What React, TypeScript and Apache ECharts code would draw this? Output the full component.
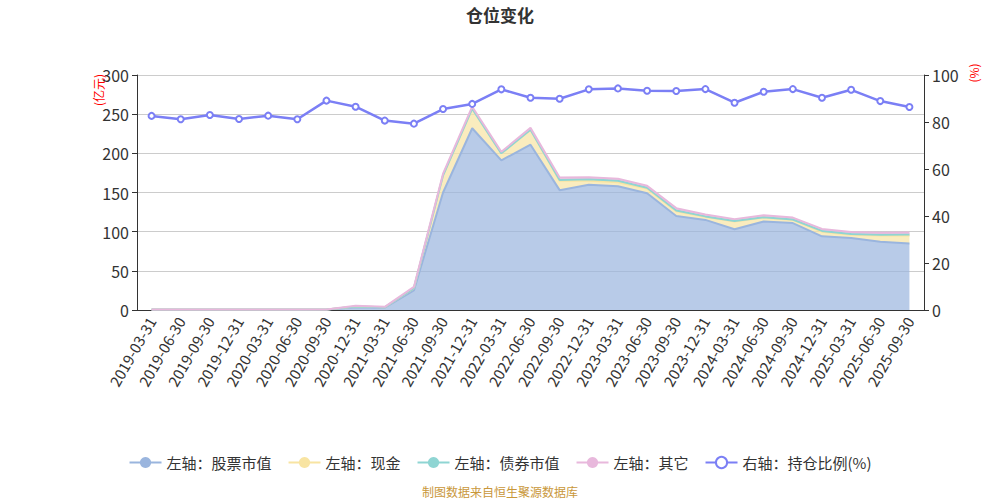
import React, { useEffect, useRef } from "react";
import * as echarts from "echarts";

const dates: string[] = [
  "2019-03-31", "2019-06-30", "2019-09-30", "2019-12-31",
  "2020-03-31", "2020-06-30", "2020-09-30", "2020-12-31",
  "2021-03-31", "2021-06-30", "2021-09-30", "2021-12-31",
  "2022-03-31", "2022-06-30", "2022-09-30", "2022-12-31",
  "2023-03-31", "2023-06-30", "2023-09-30", "2023-12-31",
  "2024-03-31", "2024-06-30", "2024-09-30", "2024-12-31",
  "2025-03-31", "2025-06-30", "2025-09-30",
];

// 亿元
const stockValue: number[] = [
  0.4, 0.4, 0.4, 0.4, 0.4, 0.4, 0.5, 3.5, 3, 25, 150, 232, 191, 211,
  153, 160, 158, 149, 120, 115, 103, 113, 111, 94, 92, 87, 85,
];
const cash: number[] = [
  0.1, 0.1, 0.1, 0.1, 0.1, 0.1, 0.1, 1, 0.5, 3, 22, 25, 9, 19,
  12, 5, 5, 6, 6, 4, 10, 5, 4, 6, 4, 8, 10,
];
const bondValue: number[] = [
  0, 0, 0, 0, 0, 0, 0, 0, 0, 0, 0, 0, 0, 0,
  1, 2, 2, 1, 1, 0.5, 0.5, 0.5, 0.5, 1, 1, 1, 1.5,
];
const other: number[] = [
  0.1, 0.1, 0.1, 0.1, 0.1, 0.1, 0.1, 0.8, 0.5, 1.5, 2, 2.5, 2, 2.5,
  3, 2.5, 2.5, 2.5, 3, 2.5, 2.5, 2.5, 2.5, 2.5, 2.5, 2.5, 2.5,
];
// %
const positionRatio: number[] = [
  82.6, 81.2, 83.0, 81.3, 82.7, 81.2, 89.1, 86.5, 80.6, 79.3, 85.5, 87.7,
  93.9, 90.3, 89.9, 93.9, 94.3, 93.3, 93.2, 94.0, 88.2, 92.9, 94.0, 90.3,
  93.7, 88.9, 86.4,
];

const FONT = "Noto Sans CJK SC";

const areaSeries = (name: string, data: number[], color: string) => ({
  name,
  type: "line",
  stack: "total",
  data,
  symbol: "circle",
  showSymbol: false,
  color,
  lineStyle: { width: 2, color },
  areaStyle: { color, opacity: 0.7 },
});

const App: React.FC = () => {
  const chartRef = useRef<HTMLDivElement | null>(null);

  useEffect(() => {
    const chartDom = chartRef.current;
    if (!chartDom) return;
    const myChart = echarts.init(chartDom, undefined, { renderer: "svg" });

    const option = {
      animation: false,
      backgroundColor: "#fff",
      textStyle: { fontFamily: FONT },
      title: {
        text: "仓位变化",
        left: "center",
        top: 1,
        textStyle: { fontSize: 17, fontWeight: "bold", color: "#333", fontFamily: FONT },
      },
      grid: { left: 137, right: 76, top: 75, bottom: 190 },
      legend: {
        top: 450,
        left: "center",
        itemWidth: 32,
        itemHeight: 14,
        itemGap: 16,
        textStyle: { fontSize: 15, color: "#333", fontFamily: FONT },
        data: ["左轴：股票市值", "左轴：现金", "左轴：债券市值", "左轴：其它", "右轴：持仓比例(%)"],
      },
      xAxis: {
        type: "category",
        data: dates,
        boundaryGap: true,
        axisLine: { lineStyle: { color: "#333" } },
        axisTick: { alignWithLabel: false, lineStyle: { color: "#333" } },
        axisLabel: { interval: 0, rotate: 60, fontSize: 15, color: "#333", margin: 8 },
      },
      yAxis: [
        {
          type: "value",
          min: 0,
          max: 300,
          interval: 50,
          axisLine: { show: true, lineStyle: { color: "#333" } },
          axisTick: { show: true, lineStyle: { color: "#333" } },
          axisLabel: { fontSize: 16, color: "#333" },
          splitLine: { lineStyle: { color: "#ccc" } },
        },
        {
          type: "value",
          min: 0,
          max: 100,
          interval: 20,
          position: "right",
          axisLine: { show: true, lineStyle: { color: "#333" } },
          axisTick: { show: true, lineStyle: { color: "#333" } },
          axisLabel: { fontSize: 16, color: "#333" },
          splitLine: { show: false },
        },
      ],
      graphic: [
        {
          type: "text",
          x: 98,
          y: 90,
          rotation: Math.PI / 2,
          style: { text: "(亿元)", fill: "#ff0000", fontSize: 12, fontFamily: FONT, align: "center", verticalAlign: "middle" },
        },
        {
          type: "text",
          x: 973,
          y: 73,
          rotation: Math.PI / 2,
          style: { text: "(%)", fill: "#ff0000", fontSize: 12, fontFamily: FONT, align: "center", verticalAlign: "middle" },
        },
        {
          type: "text",
          left: "center",
          top: 485,
          style: { text: "制图数据来自恒生聚源数据库", fill: "#c9973a", fontSize: 12, fontFamily: FONT },
        },
      ],
      series: [
        areaSeries("左轴：股票市值", stockValue, "#9ab5de"),
        areaSeries("左轴：现金", cash, "#f8e4a2"),
        areaSeries("左轴：债券市值", bondValue, "#8fd5d3"),
        areaSeries("左轴：其它", other, "#e8b8dc"),
        {
          name: "右轴：持仓比例(%)",
          type: "line",
          yAxisIndex: 1,
          data: positionRatio,
          symbol: "emptyCircle",
          symbolSize: 6,
          color: "#7b7ff5",
          lineStyle: { width: 2.5, color: "#7b7ff5" },
          itemStyle: { color: "#7b7ff5", borderWidth: 1.5 },
          z: 5,
        },
      ],
    };

    myChart.setOption(option);
    return () => {
      myChart.dispose();
    };
  }, []);

  return (
    <div
      ref={chartRef}
      style={{ position: "fixed", top: 0, left: 0, width: 1000, height: 500 }}
    />
  );
};

export default App;
